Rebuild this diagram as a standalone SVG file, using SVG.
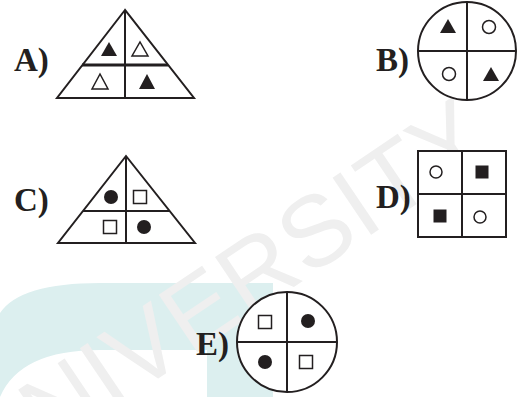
<svg xmlns="http://www.w3.org/2000/svg" width="520" height="397" viewBox="0 0 520 397">
<style>
.w{fill:#fff;stroke:#231f20;stroke-width:2}
.l{fill:none;stroke:#231f20;stroke-width:2}
.f{fill:#231f20}
.h{fill:#fff;stroke:#231f20;stroke-width:1.5}
.lab{font-family:"Liberation Serif",serif;font-weight:bold;font-size:33px;fill:#231f20}
.wm{font-family:"Liberation Sans",Arial,sans-serif;font-size:100px;letter-spacing:1px;fill:#efefef}
</style>
<g id="watermark">
<path d="M0,313 Q20,283 100,283 L273,283 L273,397 L207,397 L207,350 L100,350 Q20,350 0,397 Z" fill="#dcefef"/>
<text class="wm" text-anchor="middle" transform="translate(222,292) rotate(-34)" x="0" y="36">UNIVERSITY</text>
</g>
<g id="A">
<polygon class="w" points="125,10 57,98 194,98"/>
<line class="l" x1="125" y1="10" x2="125" y2="98"/>
<line class="l" x1="82" y1="65" x2="168" y2="65" style="stroke-width:3"/>
<polygon class="f" points="101,56 117,56 109,42"/>
<polygon class="h" points="132,56 148,56 140,42"/>
<polygon class="h" points="92,89 108,89 100,74"/>
<polygon class="f" points="139,89 155,89 147,74"/>
<text class="lab" x="14" y="71">A)</text>
</g>
<g id="B">
<circle class="w" cx="467" cy="51" r="49"/>
<line class="l" x1="467" y1="2" x2="467" y2="100"/>
<line class="l" x1="418" y1="51" x2="516" y2="51"/>
<polygon class="f" points="440,33 456,33 448,19"/>
<circle class="h" cx="489" cy="27" r="6.5"/>
<circle class="h" cx="449" cy="74" r="6.5"/>
<polygon class="f" points="483,81 499,81 491,67"/>
<text class="lab" x="376" y="71">B)</text>
</g>
<g id="C">
<polygon class="w" points="126,156 58,243 195,243"/>
<line class="l" x1="126" y1="156" x2="126" y2="243"/>
<line class="l" x1="83" y1="211" x2="170" y2="211"/>
<circle class="f" cx="111" cy="197" r="7"/>
<rect class="h" x="133.5" y="190.5" width="13" height="13"/>
<rect class="h" x="103.5" y="220.5" width="13" height="13"/>
<circle class="f" cx="144" cy="227" r="7"/>
<text class="lab" x="14" y="211">C)</text>
</g>
<g id="D">
<rect class="w" x="418" y="151" width="88" height="86"/>
<line class="l" x1="462" y1="151" x2="462" y2="237"/>
<line class="l" x1="418" y1="194" x2="506" y2="194"/>
<circle class="h" cx="436" cy="172" r="6"/>
<rect class="f" x="475.5" y="165.5" width="13" height="13"/>
<rect class="f" x="433.5" y="209.5" width="13" height="13"/>
<circle class="h" cx="480" cy="217" r="6"/>
<text class="lab" x="376" y="208">D)</text>
</g>
<g id="E">
<circle class="w" cx="287" cy="342" r="50"/>
<line class="l" x1="287" y1="292" x2="287" y2="392"/>
<line class="l" x1="237" y1="342" x2="337" y2="342"/>
<rect class="h" x="258.5" y="315.5" width="13" height="13"/>
<circle class="f" cx="308" cy="321" r="7"/>
<circle class="f" cx="265" cy="362" r="7"/>
<rect class="h" x="299.5" y="355.5" width="13" height="13"/>
<text class="lab" x="196" y="355">E)</text>
</g>
</svg>
